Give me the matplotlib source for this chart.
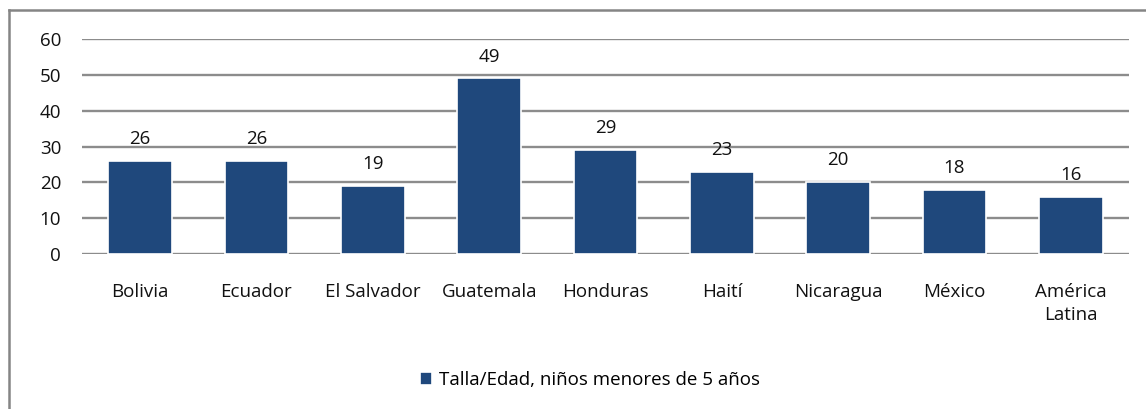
import matplotlib.pyplot as plt
from matplotlib.lines import Line2D
import numpy as np

paises = ['Bolivia', 'Ecuador', 'El Salvador', 'Guatemala', 'Honduras',
          'Haití', 'Nicaragua', 'México', 'América\nLatina']
talla_edad = [26, 26, 19, 49, 29, 23, 20, 18, 16]
serie = 'Talla/Edad, niños menores de 5 años'

plt.rcParams['font.family'] = ['Open Sans', 'DejaVu Sans']
fs = 13.5

fig = plt.figure(figsize=(11.46, 4.09), dpi=100)
ax = fig.add_axes([82 / 1146, 1 - 254 / 409, (1129 - 82) / 1146, (254 - 39) / 409])

x = np.arange(len(paises))
bars = ax.bar(x, talla_edad, width=0.55, color='#1F487C', edgecolor='white',
              linewidth=1.2, zorder=3, label=serie)

for xi, v in zip(x, talla_edad):
    ax.text(xi, v + 3.6, str(v), ha='center', va='bottom', fontsize=fs, color='#111111')

ax.set_xlim(-0.5, len(paises) - 0.5)
ax.set_ylim(0, 60)
ax.set_yticks(range(0, 61, 10))
ax.yaxis.grid(True, color='#8C8C8C', linewidth=1.7, zorder=0)
ax.set_axisbelow(True)
for s in ax.spines.values():
    s.set_visible(False)
ax.tick_params(axis='both', length=0, labelsize=fs, colors='#111111')
ax.tick_params(axis='y', pad=15)
ax.tick_params(axis='x', pad=21)
ax.set_xticks(x)
ax.set_xticklabels(paises)
for lbl in ax.get_xticklabels():
    lbl.set_linespacing(1.35)

fig.legend(handles=[bars], labels=[serie], loc='center', bbox_to_anchor=(590 / 1146, 1 - 380 / 409),
           frameon=False, fontsize=fs, handlelength=0.65, handleheight=0.65, handletextpad=0.4)

# marco exterior del grafico
fig.add_artist(Line2D([9 / 1146, 9 / 1146], [0, 1 - 10 / 409], transform=fig.transFigure,
                      color='#858585', linewidth=1.8))
fig.add_artist(Line2D([9 / 1146, 1], [1 - 10 / 409, 1 - 10 / 409], transform=fig.transFigure,
                      color='#858585', linewidth=1.8))

fig.savefig('out.png', dpi=100)
